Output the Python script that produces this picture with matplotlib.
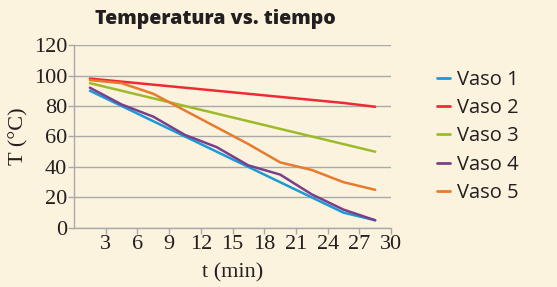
import matplotlib.pyplot as plt

# datos (t en min, T en grados C)
tiempo = [1.5, 4.5, 7.5, 10.5, 13.5, 16.5, 19.5, 22.5, 25.5, 28.5]
vaso1 = [90, 80, 70, 60, 50, 40, 30, 20, 10, 5]
vaso2 = [98, 96, 94, 92, 90, 88, 86, 84, 82, 79.5]
vaso3 = [95, 90, 85, 80, 75, 70, 65, 60, 55, 50]
vaso4 = [92, 81, 73, 61, 53, 41, 35, 22, 12, 5]
vaso5 = [97, 95, 88, 77, 66, 55, 43, 38, 30, 25]
nombres = ['Vaso 1', 'Vaso 2', 'Vaso 3', 'Vaso 4', 'Vaso 5']
colores = ['#1b9ad6', '#ee2b34', '#9cbb2b', '#7a3f8b', '#e87a2e']
xticks = [3, 6, 9, 12, 15, 18, 21, 24, 27, 30]
yticks = [0, 20, 40, 60, 80, 100, 120]

fondo = '#fbf3de'
gris = '#a9a9a9'

fig = plt.figure(figsize=(5.57, 2.87), dpi=100, facecolor=fondo)
ax = fig.add_axes([0.133, 0.206, 0.569, 0.637])
ax.set_facecolor(fondo)

for serie, nombre, color in zip([vaso1, vaso2, vaso3, vaso4, vaso5], nombres, colores):
	ax.plot(tiempo, serie, color=color, lw=1.8, label=nombre, solid_capstyle='round')

ax.set_xlim(0, 30)
ax.set_ylim(0, 120)
ax.set_xticks(xticks)
ax.set_yticks(yticks)
ax.grid(axis='y', color=gris, lw=1)
ax.set_axisbelow(True)
for s in ['top', 'right']:
	ax.spines[s].set_visible(False)
for s in ['left', 'bottom']:
	ax.spines[s].set_color(gris)
	ax.spines[s].set_linewidth(1)
ax.tick_params(axis='both', color=gris, length=4, width=1, pad=1)
for lbl in ax.get_xticklabels() + ax.get_yticklabels():
	lbl.set_fontfamily('Liberation Serif')
	lbl.set_fontsize(16)
	lbl.set_color('#231f20')

ax.set_xlabel('t (min)', fontfamily='Liberation Serif', fontsize=16, color='#231f20', labelpad=7)
ax.set_ylabel('T (°C)', fontfamily='Liberation Serif', fontsize=16, color='#231f20', labelpad=4)
fig.text(0.386, 0.935, 'Temperatura vs. tiempo', ha='center', va='center',
	fontfamily='Open Sans', fontweight='heavy', fontsize=14, color='#231f20')

leg = ax.legend(loc='center left', bbox_to_anchor=(1.12, 0.5), frameon=False,
	prop={'family': 'Open Sans', 'size': 14.5}, handlelength=0.65, handletextpad=0.36,
	labelspacing=0.42, labelcolor='#231f20', borderaxespad=0)
for h in leg.get_lines():
	h.set_linewidth(2)

fig.savefig('out.png', dpi=100, facecolor=fondo)
